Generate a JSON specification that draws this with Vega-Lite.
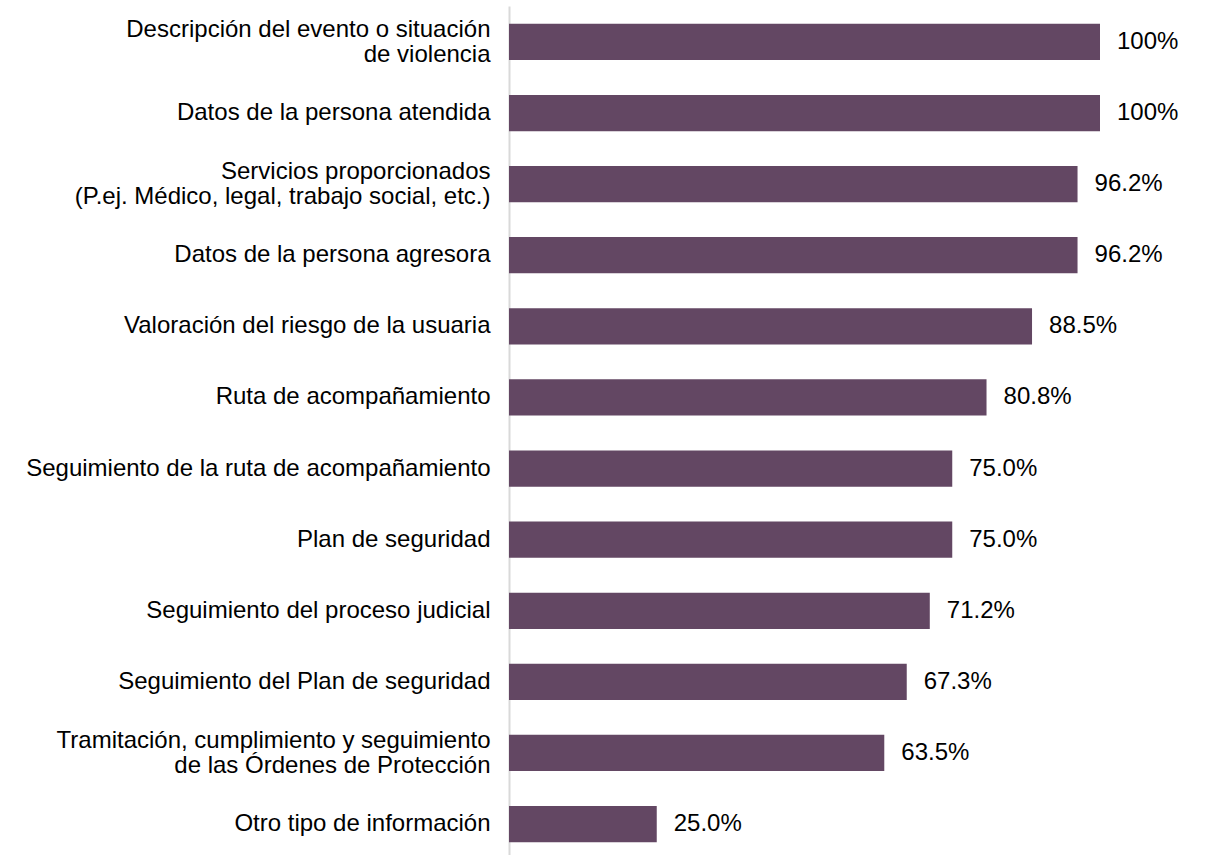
{
  "$schema": "https://vega.github.io/schema/vega-lite/v6.json",
  "autosize": "none",
  "width": 591,
  "height": 854,
  "padding": {"left": 509, "top": 6, "right": 105, "bottom": 0},
  "background": "white",
  "config": {"view": {"stroke": null}, "font": "Liberation Sans"},
  "data": {"values": [
    {"cat": "Descripción del evento o situación|de violencia", "v": 100, "lbl": "100%"},
    {"cat": "Datos de la persona atendida", "v": 100, "lbl": "100%"},
    {"cat": "Servicios proporcionados|(P.ej. Médico, legal, trabajo social, etc.)", "v": 96.2, "lbl": "96.2%"},
    {"cat": "Datos de la persona agresora", "v": 96.2, "lbl": "96.2%"},
    {"cat": "Valoración del riesgo de la usuaria", "v": 88.5, "lbl": "88.5%"},
    {"cat": "Ruta de acompañamiento", "v": 80.8, "lbl": "80.8%"},
    {"cat": "Seguimiento de la ruta de acompañamiento", "v": 75.0, "lbl": "75.0%"},
    {"cat": "Plan de seguridad", "v": 75.0, "lbl": "75.0%"},
    {"cat": "Seguimiento del proceso judicial", "v": 71.2, "lbl": "71.2%"},
    {"cat": "Seguimiento del Plan de seguridad", "v": 67.3, "lbl": "67.3%"},
    {"cat": "Tramitación, cumplimiento y seguimiento|de las Órdenes de Protección", "v": 63.5, "lbl": "63.5%"},
    {"cat": "Otro tipo de información", "v": 25.0, "lbl": "25.0%"}
  ]},
  "encoding": {
    "y": {
      "field": "cat", "type": "nominal", "sort": null, "title": null,
      "scale": {"paddingInner": 0.49, "paddingOuter": 0.25},
      "axis": {
        "labelExpr": "split(datum.label, '|')",
        "labelFontSize": 24, "labelColor": "#000000", "labelPadding": 19,
        "labelLineHeight": 25, "labelLimit": 600,
        "labelOffset": {"condition": {"test": "indexof(datum.value, '|') >= 0", "value": -12}, "value": 0},
        "ticks": false, "domainColor": "#d9d9d9", "domainWidth": 2,
        "labelFont": "Liberation Sans"
      }
    },
    "x": {
      "field": "v", "type": "quantitative",
      "scale": {"domain": [0, 100]},
      "axis": null
    }
  },
  "layer": [
    {"mark": {"type": "bar", "color": "#634763"}},
    {"mark": {"type": "text", "align": "left", "dx": 17, "fontSize": 24, "color": "#000000", "font": "Liberation Sans"},
     "encoding": {"text": {"field": "lbl"}}}
  ]
}
